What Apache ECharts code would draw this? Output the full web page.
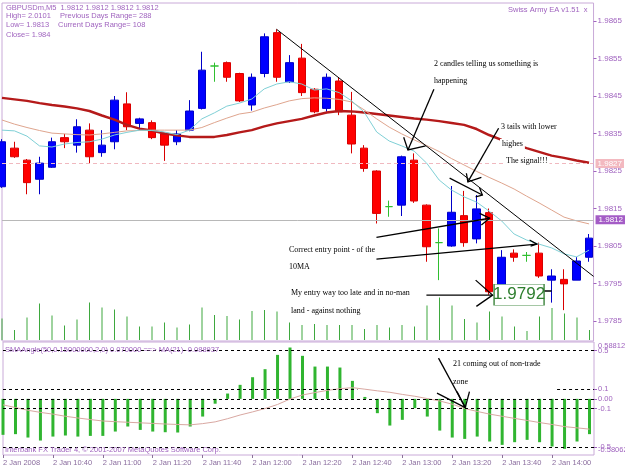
<!DOCTYPE html>
<html>
<head>
<meta charset="utf-8">
<script src="https://cdn.jsdelivr.net/npm/echarts@6/dist/echarts.min.js"></script>
<style>
  html, body { margin: 0; padding: 0; background: #fff; }
  #chart { width: 625px; height: 469px; }
</style>
</head>
<body>
<div id="chart"></div>
<script>
// GBPUSDm M5, 2 Jan 2008, 48 bars
const timeLabels = ['2 Jan 2008', '2 Jan 10:40', '2 Jan 11:00', '2 Jan 11:20', '2 Jan 11:40', '2 Jan 12:00',
  '2 Jan 12:20', '2 Jan 12:40', '2 Jan 13:00', '2 Jan 13:20', '2 Jan 13:40', '2 Jan 14:00'];
const labelIndex = [0, 4, 8, 12, 16, 20, 24, 28, 32, 36, 40, 44];
const priceTicks = [1.9865, 1.9855, 1.9845, 1.9835, 1.9825, 1.9815, 1.9805, 1.9795, 1.9785];

const opens = [1.98208, 1.98311, 1.98279, 1.98228, 1.98260, 1.98339, 1.98319, 1.98359, 1.98299, 1.98328,
  1.98429, 1.98377, 1.98379, 1.98349, 1.98328, 1.98359, 1.98417, 1.98530, 1.98539, 1.98510,
  1.98426, 1.98510, 1.98619, 1.98488, 1.98551, 1.98468, 1.98417, 1.98490, 1.98399, 1.98311,
  1.98250, 1.98155, 1.98159, 1.98279, 1.98159, 1.98059, 1.98050, 1.98131, 1.98069, 1.98139,
  1.97941, 1.98031, 1.98025, 1.98031, 1.97959, 1.97961, 1.97959, 1.98020];
const closes = [1.98328, 1.98288, 1.98219, 1.98271, 1.98328, 1.98328, 1.98368, 1.98288, 1.98319, 1.98439,
  1.98368, 1.98389, 1.98339, 1.98319, 1.98349, 1.98410, 1.98519, 1.98530, 1.98500, 1.98437,
  1.98500, 1.98608, 1.98500, 1.98539, 1.98459, 1.98408, 1.98500, 1.98408, 1.98322, 1.98257,
  1.98137, 1.98155, 1.98288, 1.98170, 1.98048, 1.98059, 1.98140, 1.98059, 1.98149, 1.97928,
  1.98020, 1.98020, 1.98025, 1.97970, 1.97970, 1.97949, 1.98010, 1.98071];
const lows = [1.98205, 1.98285, 1.98188, 1.98188, 1.98258, 1.98311, 1.98299, 1.98269, 1.98288, 1.98308,
  1.98359, 1.98359, 1.98335, 1.98277, 1.98319, 1.98356, 1.98414, 1.98488, 1.98488, 1.98434,
  1.98411, 1.98500, 1.98488, 1.98485, 1.98450, 1.98404, 1.98408, 1.98399, 1.98297, 1.98248,
  1.98110, 1.98128, 1.98130, 1.98165, 1.98008, 1.97959, 1.98048, 1.98048, 1.98057, 1.97920,
  1.97940, 1.98008, 1.98008, 1.97965, 1.97899, 1.97879, 1.97959, 1.98008];
const highs = [1.98335, 1.98328, 1.98282, 1.98288, 1.98339, 1.98349, 1.98388, 1.98377, 1.98359, 1.98450,
  1.98460, 1.98392, 1.98385, 1.98352, 1.98359, 1.98439, 1.98568, 1.98539, 1.98542, 1.98512,
  1.98510, 1.98617, 1.98628, 1.98559, 1.98589, 1.98471, 1.98510, 1.98500, 1.98461, 1.98319,
  1.98252, 1.98171, 1.98291, 1.98297, 1.98161, 1.98097, 1.98210, 1.98197, 1.98186, 1.98150,
  1.98039, 1.98041, 1.98034, 1.98059, 1.97988, 1.97988, 1.98021, 1.98082];

const ma10 = [1.98359, 1.98357, 1.98343, 1.98317, 1.98314, 1.98322, 1.98326, 1.98328, 1.98335, 1.98346,
  1.98353, 1.98359, 1.98358, 1.98354, 1.98347, 1.98359, 1.98389, 1.98405, 1.98423, 1.98431,
  1.98442, 1.98469, 1.98482, 1.98488, 1.98482, 1.98466, 1.98469, 1.98459, 1.98437, 1.98407,
  1.98354, 1.98330, 1.98317, 1.98303, 1.98271, 1.98226, 1.98199, 1.98181, 1.98167, 1.98143,
  1.98117, 1.98082, 1.98066, 1.98055, 1.98045, 1.98029, 1.98021, 1.98039];
const ma21 = [1.98386, 1.98375, 1.98366, 1.98358, 1.98351, 1.98349, 1.98347, 1.98346, 1.98349, 1.98353,
  1.98357, 1.98358, 1.98359, 1.98359, 1.98359, 1.98359, 1.98366, 1.98379, 1.98391, 1.98402,
  1.98407, 1.98418, 1.98427, 1.98437, 1.98443, 1.98445, 1.98444, 1.98441, 1.98434, 1.98413,
  1.98389, 1.98367, 1.98349, 1.98333, 1.98318, 1.98302, 1.98283, 1.98266, 1.98249, 1.98233,
  1.98218, 1.98202, 1.98183, 1.98165, 1.98146, 1.98127, 1.98117, 1.98109];
const ma50 = [1.98445, 1.98441, 1.98437, 1.98431, 1.98426, 1.98422, 1.98417, 1.98410, 1.98398, 1.98387,
  1.98373, 1.98363, 1.98358, 1.98350, 1.98345, 1.98341, 1.98341, 1.98341, 1.98346, 1.98353,
  1.98359, 1.98369, 1.98377, 1.98383, 1.98389, 1.98398, 1.98406, 1.98410, 1.98409, 1.98406,
  1.98402, 1.98398, 1.98394, 1.98390, 1.98387, 1.98383, 1.98378, 1.98373, 1.98362, 1.98346,
  1.98333, 1.98322, 1.98311, 1.98301, 1.98291, 1.98285, 1.98278, 1.98272];

const volumes = [43, 20, 45, 73, 49, 29, 41, 75, 65, 61, 47, 27, 27, 35, 25, 31, 65, 50, 48, 41,
  58, 60, 57, 35, 30, 32, 30, 30, 30, 22, 30, 25, 30, 27, 69, 85, 69, 42, 35, 57,
  47, 27, 18, 47, 64, 53, 45, 20];

const smaAngle = [-0.372, -0.365, -0.400, -0.431, -0.390, -0.379, -0.390, -0.383, -0.383, -0.338,
  -0.286, -0.321, -0.338, -0.345, -0.348, -0.286, -0.183, -0.050, 0.055, 0.145,
  0.224, 0.307, 0.455, 0.531, 0.445, 0.334, 0.334, 0.324, 0.186, 0.020,
  -0.148, -0.276, -0.217, -0.096, -0.183, -0.328, -0.400, -0.414, -0.390, -0.441,
  -0.476, -0.448, -0.424, -0.448, -0.493, -0.517, -0.441, -0.365];
const smaAngleMa = [-0.062, -0.090, -0.118, -0.140, -0.158, -0.180, -0.198, -0.214, -0.229, -0.236,
  -0.242, -0.248, -0.254, -0.260, -0.265, -0.269, -0.256, -0.238, -0.205, -0.167,
  -0.135, -0.100, -0.058, -0.002, 0.040, 0.065, 0.088, 0.105, 0.116, 0.100,
  0.083, 0.068, 0.046, 0.027, 0.003, -0.022, -0.055, -0.100, -0.130, -0.158,
  -0.180, -0.202, -0.223, -0.245, -0.265, -0.287, -0.300, -0.313];
const angleTicks = [0.5, 0.1, 0, -0.1, -0.5];
const angleTickText = ['0.5', '0.1', '0.00', '-0.1', '-0.5'];
const angleMax = 0.588125;
const angleMin = -0.58062;

const bidPrice = 1.9812;
const prevPrice = 1.9827;
const entryPrice = 1.9792;

// drawn objects, in [bar index, price] / [bar index, angle]
const trendLine = [[21.98, 1.98628], [47.36, 1.97969]];
const arrowsMain = [
  [[34.58, 1.98468], [32.5, 1.98306]], [[32.16, 1.9834], [32.5, 1.98306], [33.92, 1.98317]],
  [[39.76, 1.98364], [37.3, 1.98221]], [[37.18, 1.98244], [37.3, 1.98221], [38.38, 1.98233]],
  [[35.84, 1.98231], [38.46, 1.98186]], [[38.24, 1.98205], [38.46, 1.98186], [37.92, 1.98181]],
  [[29.98, 1.98073], [39.04, 1.98124]], [[38.24, 1.98137], [39.04, 1.98124], [38.38, 1.98106]],
  [[29.98, 1.98015], [42.82, 1.98055]], [[42.24, 1.98066], [42.82, 1.98055], [42.32, 1.9805]],
  [[33.98, 1.97919], [39.28, 1.97919]], [[37.92, 1.97959], [39.28, 1.97919], [37.98, 1.97889]],
  [[43.44, 1.9793], [44, 1.9793]],
];
const arrowsAngle = [
  [[34.9, 0.421], [37.04, -0.09]],
  [[34.78, 0.059], [37.04, -0.09]],
  [[36.38, 0.075], [37.04, -0.09]],
  [[37.38, 0.075], [37.04, -0.09]],
];

const purple = '#a064bf';
const frame = '#c9aad8';
const xMax = 47.36;

function withIndex(arr) {
  return arr.map((v, i) => [i, v]);
}

function initChart() {
  const chart = echarts.init(document.getElementById('chart'));

  const candles = opens.map((o, i) => {
    const item = { value: [i, o, closes[i], lows[i], highs[i]] };
    if (o === closes[i]) {
      item.itemStyle = { color: '#2fbf2f', color0: '#2fbf2f', borderColor: '#2fbf2f', borderColor0: '#2fbf2f' };
    }
    return item;
  });

  const note = (text, x, y, bg) => ({
    type: 'text', x: x, y: y, z: 50,
    style: {
      text: text, font: '8px "Liberation Serif"', fill: '#000', verticalAlign: 'middle',
      backgroundColor: bg || null, padding: bg ? [1, 2] : 0,
    },
  });
  const header = (text, x, y, size) => ({
    type: 'text', x: x, y: y, z: 50,
    style: { text: text, font: (size || 7.5) + 'px "Liberation Sans"', fill: purple, verticalAlign: 'middle' },
  });

  const option = {
    animation: false,
    backgroundColor: '#fff',
    textStyle: { fontFamily: 'Liberation Sans' },
    grid: [
      { left: 2, top: 3, width: 592, height: 338, show: true, borderColor: frame, borderWidth: 1 },
      { left: 2, top: 290, width: 592, height: 50 },
      { left: 2, top: 342, width: 592, height: 113, show: true, borderColor: frame, borderWidth: 1 },
    ],
    xAxis: [
      { type: 'value', gridIndex: 0, min: 0, max: xMax, show: false },
      { type: 'value', gridIndex: 1, min: 0, max: xMax, show: false },
      {
        type: 'value', gridIndex: 2, min: 0, max: xMax, position: 'bottom',
        axisLine: { show: false, onZero: false },
        splitLine: { show: false },
        axisTick: { show: true, customValues: labelIndex, length: 3, lineStyle: { color: '#8a7098' } },
        axisLabel: {
          customValues: labelIndex, align: 'left', margin: 4, fontSize: 7.5, color: '#8a6c9e',
          formatter: (v) => timeLabels[labelIndex.indexOf(v)],
        },
      },
    ],
    yAxis: [
      {
        type: 'value', gridIndex: 0, position: 'right', min: 1.977967, max: 1.98698,
        axisLine: { show: false, onZero: false },
        splitLine: { show: false },
        axisTick: { show: true, customValues: priceTicks, length: 3, lineStyle: { color: purple } },
        axisLabel: {
          customValues: priceTicks, margin: 4, fontSize: 8, color: purple,
          formatter: (v) => v.toFixed(4),
        },
      },
      { type: 'value', gridIndex: 1, min: 0, max: 100, show: false },
      {
        type: 'value', gridIndex: 2, position: 'right', min: angleMin, max: angleMax,
        axisLine: { show: false, onZero: false },
        splitLine: { show: false },
        axisTick: { show: true, customValues: angleTicks, length: 3, lineStyle: { color: purple } },
        axisLabel: {
          customValues: angleTicks, margin: 4, fontSize: 7.5, color: purple,
          formatter: (v) => angleTickText[angleTicks.indexOf(v)],
        },
      },
    ],
    series: [
      {
        type: 'candlestick', xAxisIndex: 0, yAxisIndex: 0, barWidth: 8,
        data: candles,
        itemStyle: { color: '#0000ff', color0: '#ff0000', borderColor: '#0000c8', borderColor0: '#d80000', borderWidth: 1 },
        markPoint: {
          silent: true, symbol: 'rect', symbolSize: [50, 21],
          itemStyle: { color: '#fff', borderColor: '#4d8f4d', borderWidth: 1 },
          label: { show: true, position: 'inside', formatter: entryPrice.toFixed(4), color: '#2f7f2f', fontSize: 17 },
          data: [{ coord: [41.4, entryPrice] }],
        },
      },
      {
        type: 'line', xAxisIndex: 0, yAxisIndex: 0, data: withIndex(ma50), symbol: 'none',
        lineStyle: { color: '#b51a1a', width: 2.5 }, z: 3,
        markLine: {
          silent: true, symbol: 'none', precision: 5,
          data: [
            {
              yAxis: prevPrice,
              lineStyle: { color: '#f0b8bf', type: [4, 3], width: 1 },
              label: { show: true, position: 'end', distance: 2, formatter: prevPrice.toFixed(4),
                color: '#fff', backgroundColor: '#f3b9c0', padding: [1, 2, 0, 2], fontSize: 8 },
            },
            {
              yAxis: bidPrice,
              lineStyle: { color: '#b8b8b8', type: 'solid', width: 1 },
              label: { show: true, position: 'end', distance: 2, formatter: bidPrice.toFixed(4),
                color: '#fff', backgroundColor: '#a45cc6', padding: [1, 3, 0, 3], fontSize: 8 },
            },
          ],
        },
      },
      {
        type: 'line', xAxisIndex: 0, yAxisIndex: 0, data: withIndex(ma21), symbol: 'none',
        lineStyle: { color: '#dfa58e', width: 1 }, z: 3,
      },
      {
        type: 'line', xAxisIndex: 0, yAxisIndex: 0, data: withIndex(ma10), symbol: 'none',
        lineStyle: { color: '#7fd0d6', width: 1 }, z: 3,
      },
      {
        type: 'bar', xAxisIndex: 1, yAxisIndex: 1, data: withIndex(volumes), barWidth: 1,
        itemStyle: { color: '#3ea83e' },
      },
      {
        type: 'lines', coordinateSystem: 'cartesian2d', xAxisIndex: 0, yAxisIndex: 0, polyline: true,
        silent: true, z: 10,
        lineStyle: { color: '#000', width: 1.3, opacity: 1 },
        data: [{ coords: trendLine, lineStyle: { width: 1 } }].concat(arrowsMain.map((c) => ({ coords: c }))),
      },
      {
        type: 'bar', xAxisIndex: 2, yAxisIndex: 2, data: withIndex(smaAngle), barWidth: 3,
        itemStyle: { color: '#30b530' },
        markLine: {
          silent: true, symbol: 'none', label: { show: false }, precision: 5,
          lineStyle: { color: '#000', type: [3, 3], width: 1 },
          data: [
            { yAxis: 0.5 }, { yAxis: 0 }, { yAxis: -0.1 }, { yAxis: -0.5 },
            [{ coord: [0, 0.1] }, { coord: [28.4, 0.1] }],
            [{ coord: [44.4, 0.1] }, { coord: [xMax, 0.1] }],
          ],
        },
      },
      {
        type: 'line', xAxisIndex: 2, yAxisIndex: 2, data: withIndex(smaAngleMa), symbol: 'none',
        lineStyle: { color: '#d9a8a2', width: 1 }, z: 3,
      },
      {
        type: 'lines', coordinateSystem: 'cartesian2d', xAxisIndex: 2, yAxisIndex: 2, polyline: true,
        silent: true, z: 10,
        lineStyle: { color: '#000', width: 1.3, opacity: 1 },
        data: arrowsAngle.map((c) => ({ coords: c })),
      },
    ],
    graphic: [
      header('GBPUSDm,M5  1.9812 1.9812 1.9812 1.9812', 6, 7.5),
      header('High= 2.0101', 6, 16),
      header('Previous Days Range= 288', 60, 16),
      header('Low= 1.9813', 6, 25),
      header('Current Days Range= 108', 58, 25),
      header('Close= 1.984', 6, 35),
      header('Swiss Army EA v1.51  x', 508, 10),
      header('SMAAngle(50,0.15000000,2,0) 0.070000 ==> MA(21) -0.088937', 5, 349.5),
      header('Interbank FX Trader 4, \u00a9 2001-2007 MetaQuotes Software Corp.', 5, 449.5),
      header(String(angleMax), 598, 346, 7.5),
      header(String(angleMin), 598, 450, 7.5),
      note('2 candles telling us something is', 434, 64),
      note('happening', 434, 81),
      note('3 tails with lower', 501, 127),
      note('highes', 500, 144, '#fff'),
      note('The signal!!!', 504, 161, '#fff'),
      note('Correct entry point - of the', 289, 250),
      note('10MA', 289, 267),
      note('My entry way too late and in no-man', 291, 293),
      note('land - against nothing', 291, 311),
      note('21 coming out of non-trade', 453, 364),
      note('zone', 453, 382),
    ],
  };

  chart.setOption(option);
}

initChart();
</script>
</body>
</html>
